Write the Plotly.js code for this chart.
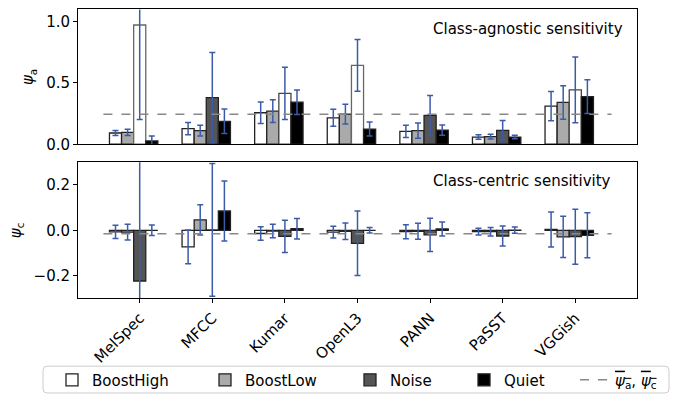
<!DOCTYPE html>
<html>
<head>
<meta charset="utf-8">
<script src="https://cdn.plot.ly/plotly-3.0.1.min.js"></script>
<style>html,body{margin:0;padding:0;background:#fff}</style>
</head>
<body>
<div id="chart" style="width:683px;height:397px"></div>
<script>
// ---- data ----
const categories = ["MelSpec", "MFCC", "Kumar", "OpenL3", "PANN", "PaSST", "VGGish"];
const seriesNames = ["BoostHigh", "BoostLow", "Noise", "Quiet"];

// class-agnostic sensitivity (psi_a): means and error bars
const boostHighA = [0.092, 0.127, 0.257, 0.216, 0.105, 0.059, 0.311];
const boostLowA  = [0.097, 0.111, 0.270, 0.246, 0.111, 0.062, 0.341];
const noiseA     = [0.973, 0.381, 0.416, 0.643, 0.235, 0.114, 0.444];
const quietA     = [0.027, 0.187, 0.343, 0.124, 0.116, 0.059, 0.389];
const boostHighAErr = [0.021, 0.050, 0.087, 0.069, 0.050, 0.019, 0.119];
const boostLowAErr  = [0.025, 0.044, 0.093, 0.080, 0.062, 0.019, 0.137];
const noiseAErr     = [0.770, 0.368, 0.213, 0.211, 0.163, 0.079, 0.269];
const quietAErr     = [0.040, 0.100, 0.100, 0.057, 0.042, 0.015, 0.138];

// class-centric sensitivity (psi_c)
const boostHighC = [-0.007, -0.073, -0.014, -0.008, -0.006, -0.006, 0.004];
const boostLowC  = [-0.008, 0.046, -0.003, -0.004, -0.004, -0.006, -0.029];
const noiseC     = [-0.223, 0.002, -0.027, -0.057, -0.020, -0.025, -0.028];
const quietC     = [0.000, 0.085, 0.007, 0.000, 0.006, 0.001, -0.022];
const boostHighCErr = [0.029, 0.074, 0.030, 0.026, 0.031, 0.015, 0.077];
const boostLowCErr  = [0.035, 0.067, 0.030, 0.036, 0.035, 0.019, 0.091];
const noiseCErr     = [0.600, 0.292, 0.071, 0.142, 0.073, 0.044, 0.121];
const quietCErr     = [0.023, 0.132, 0.045, 0.012, 0.031, 0.014, 0.099];

// ---- styles ----
const faceColors = ["#ffffff", "#aaaaaa", "#555555", "#000000"];
const noiseFaceA = ["#ffffff", "#555555", "#ffffff", "#ffffff", "#555555", "#555555", "#ffffff"];
const noiseEdgeA = ["#666666", "#222222", "#444444", "#666666", "#222222", "#222222", "#444444"];
const errColor = "#3b5ba9";
const FONT = "DejaVu Sans";
const W = 683, H = 397;
const barW = 1 / 6;

const idx = categories.map((_, i) => i);
const mean = a => a.reduce((s, v) => s + v, 0) / a.length;

const seriesA = [boostHighA, boostLowA, noiseA, quietA];
const errA = [boostHighAErr, boostLowAErr, noiseAErr, quietAErr];
const seriesC = [boostHighC, boostLowC, noiseC, quietC];
const errC = [boostHighCErr, boostLowCErr, noiseCErr, quietCErr];

const legendIds = ["legend", "legend2", "legend3", "legend4", "legend5"];
const traces = [];

function barTrace(vals, errs, k, xa, ya, top) {
  let face = faceColors[k], edge = "#222222";
  if (top && k === 2) { face = noiseFaceA; edge = noiseEdgeA; }
  return {
    type: "bar", x: idx, y: vals, xaxis: xa, yaxis: ya,
    name: seriesNames[k], legend: legendIds[k], showlegend: !top,
    width: barW, offset: (-2.5 + k) * barW,
    marker: { color: face, line: { color: edge, width: 1.3 } },
    error_y: { type: "data", array: errs, visible: true, color: errColor, thickness: 1.5, width: 3 },
    hoverinfo: "x+y"
  };
}

for (let k = 0; k < 4; k++) traces.push(barTrace(seriesA[k], errA[k], k, "x2", "y2", true));
for (let k = 0; k < 4; k++) traces.push(barTrace(seriesC[k], errC[k], k, "x", "y", false));

const meanA = mean([].concat(...seriesA));
const meanC = mean([].concat(...seriesC));
const lineX = [-0.5, categories.length - 0.5];
traces.push({
  type: "scatter", mode: "lines", x: lineX, y: [meanA, meanA], xaxis: "x2", yaxis: "y2",
  name: "<span style='text-decoration:overline'><i>ψ</i><sub>a</sub></span>, <span style='text-decoration:overline'><i>ψ</i><sub>c</sub></span>",
  legend: "legend5", showlegend: true,
  line: { color: "#888888", dash: "dash", width: 1.5 }
});
traces.push({
  type: "scatter", mode: "lines", x: lineX, y: [meanC, meanC], xaxis: "x", yaxis: "y",
  showlegend: false, line: { color: "#888888", dash: "dash", width: 1.5 }
});

const px = v => v / W;
const py = v => 1 - v / H;
const xDom = [px(78), px(637)];
const axisCommon = {
  showline: true, mirror: true, linecolor: "#000", linewidth: 1,
  showgrid: false, zeroline: false, tickfont: { family: FONT, size: 15, color: "#000" }
};

const legendBase = (x) => ({
  x: px(x), xanchor: "left", y: py(382), yanchor: "middle",
  bgcolor: "rgba(0,0,0,0)", borderwidth: 0,
  font: { family: FONT, size: 15, color: "#000" }
});

// rounded legend frame (paper coords)
const fx0 = px(43), fx1 = px(669), fy0 = py(395), fy1 = py(368);
const rx = 4 / W, ry = 4 / H;
const framePath = `M ${fx0 + rx},${fy0} L ${fx1 - rx},${fy0} Q ${fx1},${fy0} ${fx1},${fy0 + ry} ` +
  `L ${fx1},${fy1 - ry} Q ${fx1},${fy1} ${fx1 - rx},${fy1} L ${fx0 + rx},${fy1} ` +
  `Q ${fx0},${fy1} ${fx0},${fy1 - ry} L ${fx0},${fy0 + ry} Q ${fx0},${fy0} ${fx0 + rx},${fy0} Z`;

const layout = {
  width: W, height: H,
  margin: { l: 0, r: 0, t: 0, b: 0 },
  paper_bgcolor: "#fff", plot_bgcolor: "#fff",
  barmode: "overlay",
  font: { family: FONT, size: 15, color: "#000" },
  xaxis: Object.assign({}, axisCommon, {
    domain: xDom, anchor: "y", range: [-0.85, 6.85],
    tickmode: "array", tickvals: idx, ticktext: categories, tickangle: -45,
    ticks: "outside", ticklen: 4, tickwidth: 1, tickcolor: "#000"
  }),
  xaxis2: Object.assign({}, axisCommon, {
    domain: xDom, anchor: "y2", matches: "x", range: [-0.85, 6.85],
    showticklabels: false, ticks: ""
  }),
  yaxis: Object.assign({}, axisCommon, {
    domain: [py(300), py(163)], anchor: "x", range: [-0.3, 0.3],
    tickmode: "array", tickvals: [-0.2, 0, 0.2], tickformat: ".1f",
    ticks: "outside", ticklen: 4, tickcolor: "#000",
    title: { text: "<i>ψ</i><sub>c</sub>", font: { family: FONT, size: 15, color: "#000" }, standoff: 8 }
  }),
  yaxis2: Object.assign({}, axisCommon, {
    domain: [py(145), py(9.5)], anchor: "x2", range: [0, 1.1],
    tickmode: "array", tickvals: [0, 0.5, 1.0], tickformat: ".1f",
    ticks: "outside", ticklen: 4, tickcolor: "#000",
    title: { text: "<i>ψ</i><sub>a</sub>", font: { family: FONT, size: 15, color: "#000" }, standoff: 8 }
  }),
  legend: legendBase(52),
  legend2: legendBase(205),
  legend3: legendBase(350),
  legend4: legendBase(464),
  legend5: legendBase(575),
  shapes: [{
    type: "path", xref: "paper", yref: "paper", path: framePath,
    line: { color: "#cccccc", width: 1 }, fillcolor: "rgba(0,0,0,0)", layer: "below"
  }],
  annotations: [
    { text: "Class-agnostic sensitivity", xref: "paper", yref: "paper", x: px(431), y: py(29),
      xanchor: "left", yanchor: "middle", showarrow: false, font: { family: FONT, size: 15, color: "#000" } },
    { text: "Class-centric sensitivity", xref: "paper", yref: "paper", x: px(431), y: py(182),
      xanchor: "left", yanchor: "middle", showarrow: false, font: { family: FONT, size: 15, color: "#000" } }
  ]
};

Plotly.newPlot("chart", traces, layout, { displayModeBar: false, staticPlot: true });
</script>
</body>
</html>
